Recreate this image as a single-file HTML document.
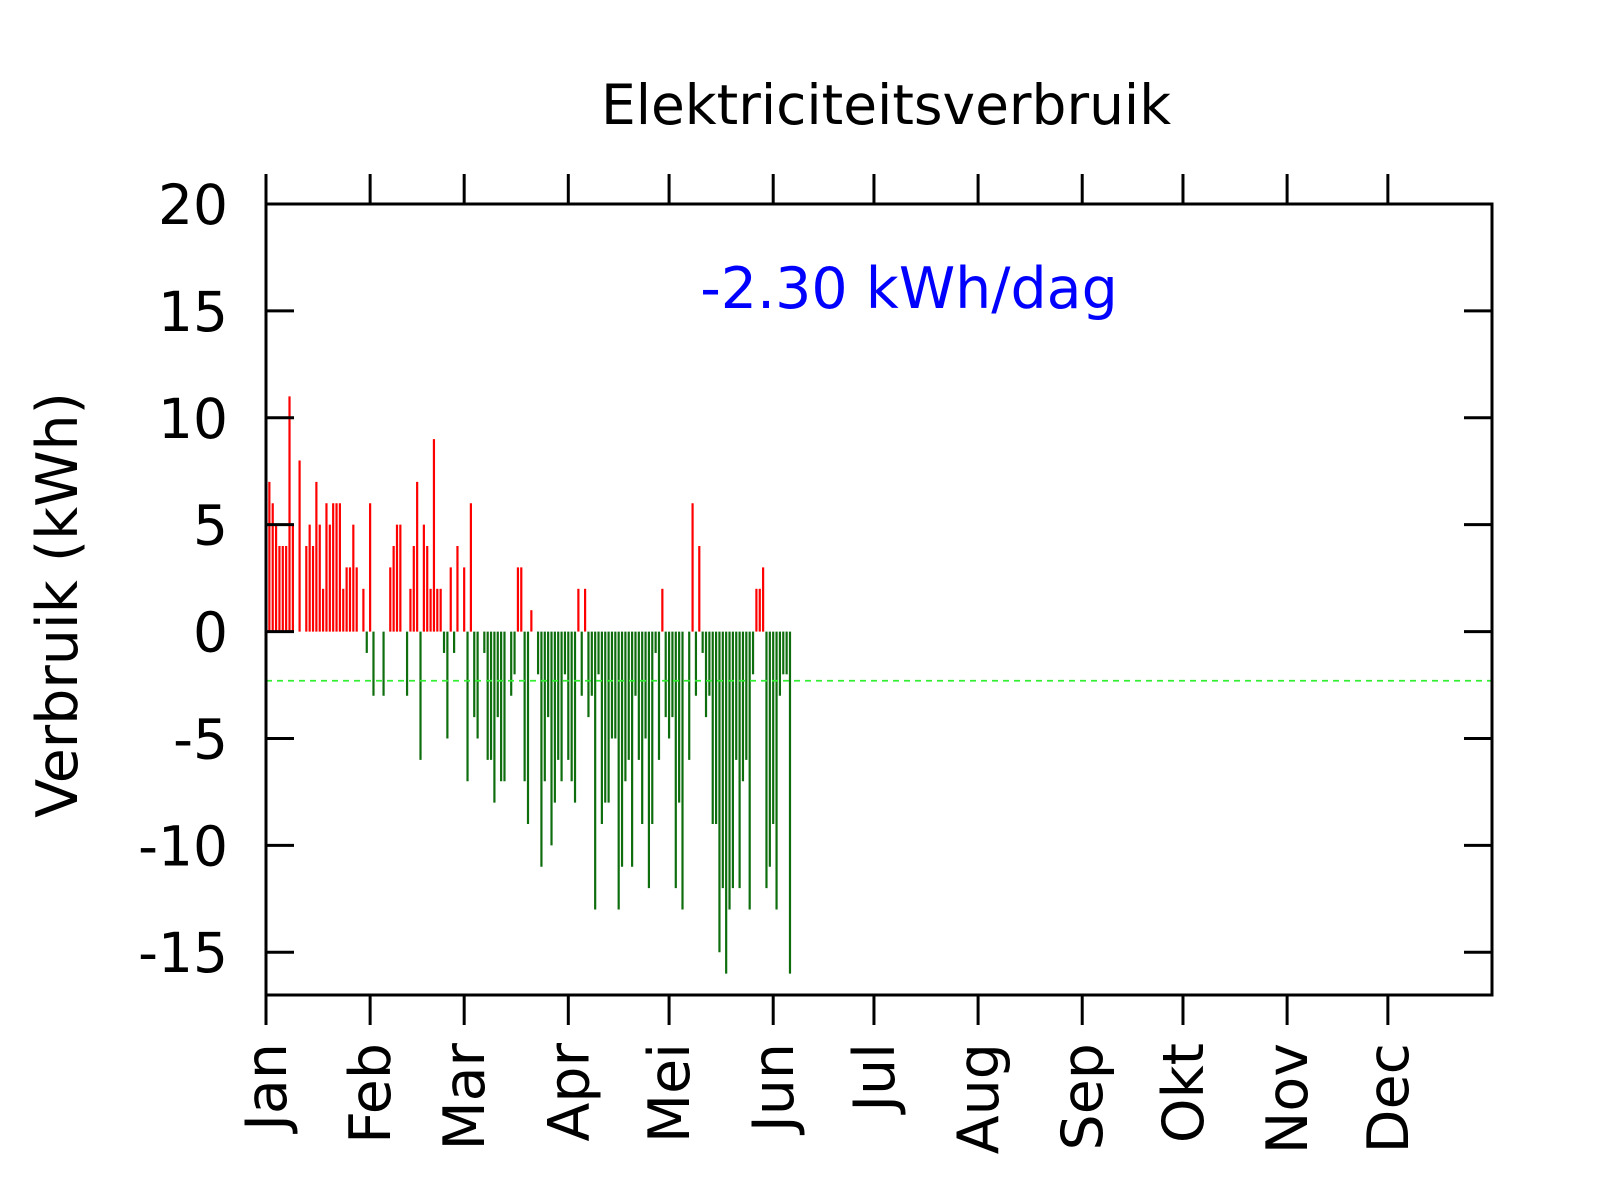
<!DOCTYPE html>
<html><head><meta charset="utf-8"><style>
html,body{margin:0;padding:0;background:#fff;}
svg{display:block;font-family:"DejaVu Sans","Liberation Sans",sans-serif;}
</style></head><body>
<svg id="chart" width="1600" height="1200" viewBox="0 0 1600 1200">
<rect x="0" y="0" width="1600" height="1200" fill="#fff"/>
<text x="886" y="124" font-size="55" text-anchor="middle">Elektriciteitsverbruik</text>
<text x="909" y="308" font-size="57" fill="#0000ff" text-anchor="middle">-2.30 kWh/dag</text>
<text transform="translate(77,605) rotate(-90)" font-size="57" text-anchor="middle">Verbruik (kWh)</text>
<g id="bars"></g>
<g id="axes"></g>
</svg>
<script>
const monthLabels = ["Jan","Feb","Mar","Apr","Mei","Jun","Jul","Aug","Sep","Okt","Nov","Dec"];
const monthStartDays = [0,31,59,90,120,151,181,212,243,273,304,334];
const yTicks = [20,15,10,5,0,-5,-10,-15];
const averageValue = -2.30;
const dayIndex = [];
for (let i = 1; i <= 156; i++) dayIndex.push(i);
const dailyValues = [7,6,5,4,4,4,11,5,0,8,0,4,5,4,7,5,2,6,5,6,6,6,2,3,3,5,3,0,2,-1,
6,-3,0,0,-3,0,3,4,5,5,0,-3,2,4,7,-6,5,4,2,9,2,2,-1,-5,3,-1,4,0,3,-7,
6,-4,-5,0,-1,-6,-6,-8,-4,-7,-7,0,-3,-2,3,3,-7,-9,1,0,-2,-11,-7,-4,-10,-8,-6,-7,-2,-6,
-7,-8,2,-3,2,-4,-3,-13,-2,-9,-8,-8,-5,-5,-13,-11,-7,-6,-11,-3,-6,-9,-5,-12,-9,-1,-6,2,
-4,-5,-4,-12,-8,-13,0,-6,6,-3,4,-1,-4,-3,-9,-9,-15,-12,-16,-13,-12,-6,-12,-7,-6,-13,-2,2,
2,3,-12,-11,-9,-13,-3,-2,-2,-16];

const L=266,R=1492,T=204,B=995;
const yMin=-17,yMax=20;
function xs(d){return L+d*(R-L)/365;}
function ys(v){return T+(yMax-v)*(B-T)/(yMax-yMin);}
const NS="http://www.w3.org/2000/svg";
const bars=document.getElementById('bars');
const axes=document.getElementById('axes');
function mk(tag,attrs,parent){const e=document.createElementNS(NS,tag);for(const k in attrs)e.setAttribute(k,attrs[k]);parent.appendChild(e);return e;}

dailyValues.forEach((v,i)=>{
  if(v===0) return;
  const x=xs(dayIndex[i]);
  const b=mk('line',{x1:x,x2:x,y1:ys(0),y2:ys(v),stroke:v>0?'#ff0000':'#0e6e0e','stroke-width':2.2},bars);
  
  
});

const avg=mk('line',{x1:L,x2:R,y1:ys(averageValue),y2:ys(averageValue),stroke:'#33ee33','stroke-width':1.8,'stroke-dasharray':'6,5'},bars);



const frame=mk('rect',{x:L,y:T,width:R-L,height:B-T,fill:'none',stroke:'#000','stroke-width':3},axes);



yTicks.forEach(v=>{
  const y=ys(v);
  const t1=mk('line',{x1:L,x2:L+28,y1:y,y2:y,stroke:'#000','stroke-width':3},axes);
  
  
  const t2=mk('line',{x1:R-28,x2:R,y1:y,y2:y,stroke:'#000','stroke-width':3},axes);
  
  
  const lb=mk('text',{x:228,y:y+20,'font-size':55,'text-anchor':'end'},axes);
  lb.textContent=String(v);
  
  
});

monthStartDays.forEach((d,i)=>{
  const x=xs(d);
  const t1=mk('line',{x1:x,x2:x,y1:B,y2:B+30,stroke:'#000','stroke-width':3},axes);
  
  
  const t2=mk('line',{x1:x,x2:x,y1:T-30,y2:T,stroke:'#000','stroke-width':3},axes);
  
  
  const lb=mk('text',{transform:'translate('+(x+20)+',1043) rotate(-90)','font-size':57,'text-anchor':'end'},axes);
  lb.textContent=monthLabels[i];
  
  
});
</script>
</body></html>
